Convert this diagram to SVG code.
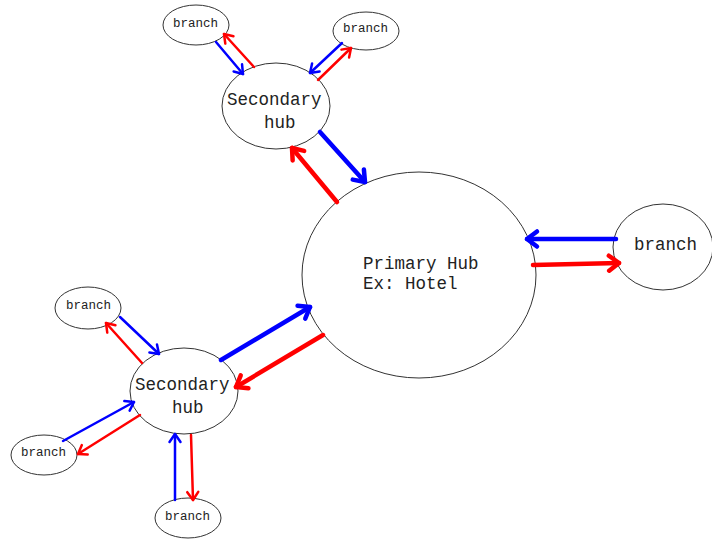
<svg xmlns="http://www.w3.org/2000/svg" width="712" height="542" viewBox="0 0 712 542">
<style>
.node{fill:#fff;stroke:#333;stroke-width:1}
.t{font-family:"Liberation Mono","Courier New",monospace;fill:#222}
.big{font-size:17.5px}
.small{font-size:12.5px}
.thin{fill:none;stroke-width:2.5;stroke-linecap:round}
.thick{fill:none;stroke-width:4.5;stroke-linecap:round}
.b{stroke:#0000ff}
.r{stroke:#ff0000}
</style>
<defs>
<marker id="mbt" markerUnits="userSpaceOnUse" markerWidth="14" markerHeight="14" refX="11" refY="7" orient="auto" overflow="visible"><path d="M3,1.5 L11,7 L3,12.5" fill="none" stroke="#0000ff" stroke-width="2.5" stroke-linecap="round" stroke-linejoin="round"/></marker>
<marker id="mrt" markerUnits="userSpaceOnUse" markerWidth="14" markerHeight="14" refX="11" refY="7" orient="auto" overflow="visible"><path d="M3,1.5 L11,7 L3,12.5" fill="none" stroke="#ff0000" stroke-width="2.5" stroke-linecap="round" stroke-linejoin="round"/></marker>
<marker id="mbT" markerUnits="userSpaceOnUse" markerWidth="18" markerHeight="18" refX="14" refY="9" orient="auto" overflow="visible"><path d="M4,1.5 L14,9 L4,16.5" fill="none" stroke="#0000ff" stroke-width="4.5" stroke-linecap="round" stroke-linejoin="round"/></marker>
<marker id="mrT" markerUnits="userSpaceOnUse" markerWidth="18" markerHeight="18" refX="14" refY="9" orient="auto" overflow="visible"><path d="M4,1.5 L14,9 L4,16.5" fill="none" stroke="#ff0000" stroke-width="4.5" stroke-linecap="round" stroke-linejoin="round"/></marker>
</defs>
<rect width="712" height="542" fill="#fff"/>
<g id="primary-hub"><ellipse class="node" cx="419" cy="275" rx="117" ry="103"/><text class="t big" x="363" y="269">Primary Hub</text><text class="t big" x="363" y="289">Ex: Hotel</text></g>
<g id="branch-right"><ellipse class="node" cx="663" cy="247" rx="50" ry="43"/><text class="t big" x="634" y="250">branch</text></g>
<g id="secondary-hub-top"><ellipse class="node" cx="276" cy="106" rx="54" ry="43"/><text class="t big" x="227" y="105">Secondary</text><text class="t big" x="264" y="128">hub</text></g>
<g id="branch-top-left"><ellipse class="node" cx="196" cy="25" rx="33" ry="20"/><text class="t small" x="173" y="27">branch</text></g>
<g id="branch-top-right"><ellipse class="node" cx="366" cy="31" rx="33" ry="19"/><text class="t small" x="343" y="32">branch</text></g>
<g id="secondary-hub-bottom"><ellipse class="node" cx="184" cy="391" rx="54" ry="43"/><text class="t big" x="135" y="390">Secondary</text><text class="t big" x="172" y="413">hub</text></g>
<g id="branch-bl-upper"><ellipse class="node" cx="88" cy="308" rx="33" ry="21"/><text class="t small" x="66" y="309">branch</text></g>
<g id="branch-bl-left"><ellipse class="node" cx="44" cy="455" rx="33" ry="20"/><text class="t small" x="21" y="456">branch</text></g>
<g id="branch-bl-bottom"><ellipse class="node" cx="188" cy="518" rx="33" ry="20"/><text class="t small" x="165" y="520">branch</text></g>
<g id="connectors">
<path class="thin b" d="M216,42 L243,74" marker-end="url(#mbt)"/>
<path class="thin r" d="M254,67 L224,34" marker-end="url(#mrt)"/>
<path class="thin b" d="M342,43 L310,73" marker-end="url(#mbt)"/>
<path class="thin r" d="M318,80 L351,48" marker-end="url(#mrt)"/>
<path class="thin b" d="M120,317 L159,354" marker-end="url(#mbt)"/>
<path class="thin r" d="M142,363 L106,323" marker-end="url(#mrt)"/>
<path class="thin b" d="M63,441 L134,402" marker-end="url(#mbt)"/>
<path class="thin r" d="M140,415 L78,454" marker-end="url(#mrt)"/>
<path class="thin b" d="M175,500 L175,434" marker-end="url(#mbt)"/>
<path class="thin r" d="M191,435 L193,500" marker-end="url(#mrt)"/>
<path class="thick b" d="M320,132 L365,182" marker-end="url(#mbT)"/>
<path class="thick r" d="M337,202 L292,148" marker-end="url(#mrT)"/>
<path class="thick b" d="M616,239 L527,239" marker-end="url(#mbT)"/>
<path class="thick r" d="M533,265 L619,263" marker-end="url(#mrT)"/>
<path class="thick b" d="M221,360 L310,307" marker-end="url(#mbT)"/>
<path class="thick r" d="M323,335 L236,387" marker-end="url(#mrT)"/>
</g>
</svg>
